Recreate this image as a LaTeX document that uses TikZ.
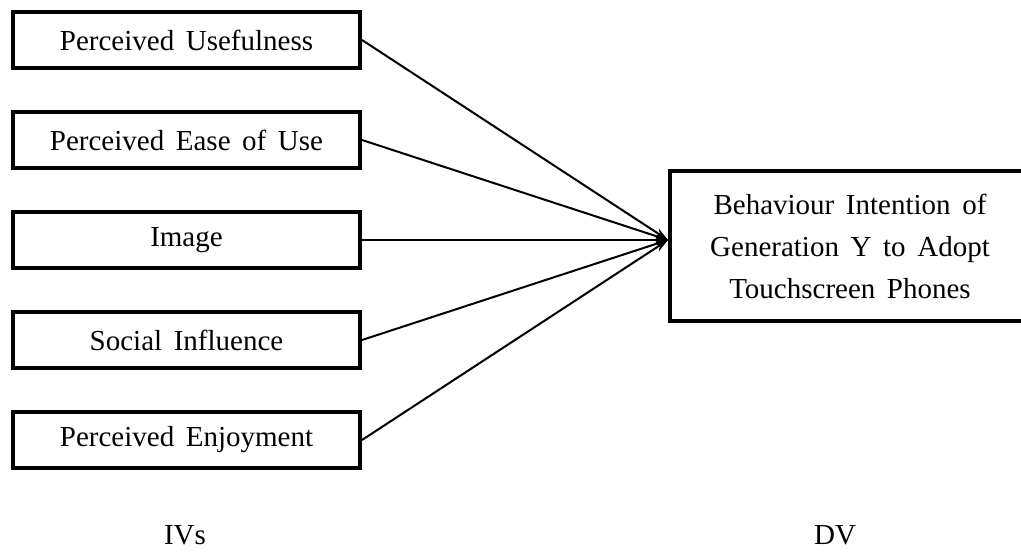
\documentclass[tikz,border=0pt]{standalone}
\usepackage{fontspec}
\setmainfont{Liberation Serif}[WordSpace=1.6]
\usetikzlibrary{arrows.meta}

\begin{document}
\begin{tikzpicture}[x=1pt,y=1pt,
    ivbox/.style={draw, line width=4pt, minimum width=347pt, minimum height=56pt, inner sep=0pt, font=\fontsize{29}{34}\selectfont},
    dvbox/.style={draw, line width=4pt, minimum width=360pt, minimum height=150pt, inner sep=0pt, align=center, font=\fontsize{29}{42}\selectfont},
    link/.style={-{Stealth[length=14pt,width=9pt]}, black, line width=2pt}]
    \useasboundingbox (0,0) rectangle (1021,558);
    \node[ivbox] (pu) at (186.5,518) {Perceived Usefulness};
    \node[ivbox] (peou) at (186.5,418) {Perceived Ease of Use};
    \node[ivbox] (img) at (186.5,318) {Image};
    \node[ivbox] (si) at (186.5,218) {Social Influence};
    \node[ivbox] (pe) at (186.5,118) {Perceived Enjoyment};
    \node[dvbox] (bi) at (850,312) {Behaviour Intention of\\Generation Y to Adopt\\Touchscreen Phones};
    \coordinate (meet) at ([yshift=6pt]bi.west);

    \draw [link] (pu.east) -- (meet);
    \draw [link] (peou.east) -- (meet);
    \draw [link] (img.east) -- (meet);
    \draw [link] (si.east) -- (meet);
    \draw [link] (pe.east) -- (meet);

    \node[font=\fontsize{29}{34}\selectfont] (ivs) at (185,23) {IVs};
    \node[font=\fontsize{29}{34}\selectfont] (dv) at (835,23) {DV};
  \end{tikzpicture}
\end{document}
